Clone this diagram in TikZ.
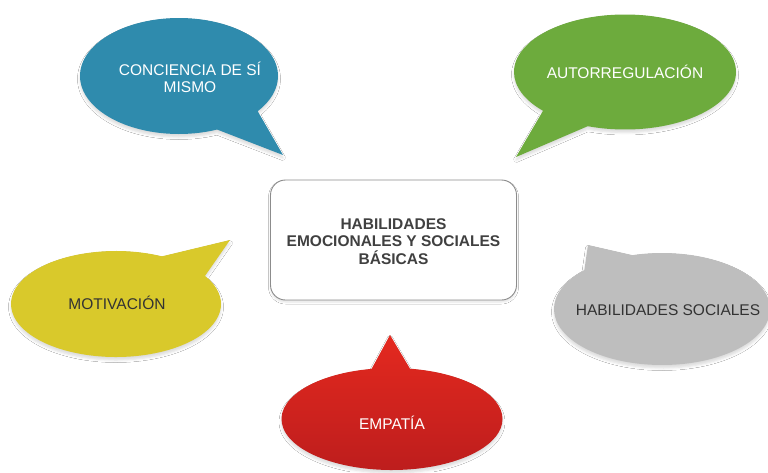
\documentclass[tikz,border=0pt]{standalone}
\usepackage{fontspec}
\setmainfont{Liberation Sans}
\usetikzlibrary{shapes.callouts,shadows.blur}
\definecolor{cblue}{HTML}{2F8BAD}
\definecolor{cgreen}{HTML}{6DAB3D}
\definecolor{cyellow}{HTML}{D9C92B}
\definecolor{cgray}{HTML}{BEBEBE}
\definecolor{credtop}{HTML}{E4291F}
\definecolor{credbot}{HTML}{BC1D1D}
\definecolor{ctext}{HTML}{333333}
\definecolor{cboxtext}{HTML}{404040}
\definecolor{cbox}{HTML}{8C8C8C}
\begin{document}
\begin{tikzpicture}[x=1pt,y=-1pt,
  bubble/.style={ellipse callout, draw=none, inner sep=0pt,
    blur shadow={shadow xshift=0pt, shadow yshift=-3pt, shadow blur radius=2.5pt, shadow opacity=14}},
  lbl/.style={font=\fontsize{15.5}{17}\selectfont, align=center, inner sep=0pt},
  centerbox/.style={draw=cbox, line width=0.9pt, fill=white, rounded corners=15pt,
    minimum width=246pt, minimum height=120pt, align=center, text=cboxtext,
    font=\fontsize{15.5}{17.5}\selectfont\bfseries,
    blur shadow={shadow xshift=0pt, shadow yshift=-2pt, shadow blur radius=2pt, shadow opacity=12}}]
\useasboundingbox[fill=white] (0,0) rectangle (768,472);

% bubbles
\node[bubble, fill=cblue, minimum width=198pt, minimum height=116pt,
  callout absolute pointer={(283,155)}, callout pointer arc=30] (b1) at (179,76) {};
\node[bubble, fill=cgreen, minimum width=222pt, minimum height=115pt,
  callout absolute pointer={(516,157)}, callout pointer arc=28] (b2) at (625,72) {};
\node[bubble, fill=cyellow, minimum width=210pt, minimum height=106pt,
  callout absolute pointer={(230,240)}, callout pointer arc=32] (b3) at (116,304) {};
\node[bubble, fill=cgray, minimum width=216pt, minimum height=112pt,
  callout absolute pointer={(588,245)}, callout pointer arc=30] (b4) at (662,309) {};
\node[bubble, top color=credtop, bottom color=credbot, minimum width=221pt, minimum height=102pt,
  callout absolute pointer={(390,335)}, callout pointer arc=20] (b5) at (392,419) {};

% labels
\node[lbl, text=white] (t1) at (190,77) {CONCIENCIA DE SÍ\\MISMO};
\node[lbl, text=white, text height=11pt, text depth=0pt] (t2) at (625,73) {AUTORREGULACIÓN};
\node[lbl, text=ctext, text height=11pt, text depth=0pt] (t3) at (117,304) {MOTIVACIÓN};
\node[lbl, text=ctext, text height=11pt, text depth=0pt] (t4) at (668,310) {HABILIDADES SOCIALES};
\node[lbl, text=white, text height=11pt, text depth=0pt] (t5) at (392,424) {EMPATÍA};

% centre
\node[centerbox] (c) at (393.5,240) {};
\node[lbl, font=\fontsize{15.5}{17.5}\selectfont\bfseries, text=cboxtext] (ct) at (393.5,241.5) {HABILIDADES\\EMOCIONALES Y SOCIALES\\BÁSICAS};
\end{tikzpicture}
\end{document}
